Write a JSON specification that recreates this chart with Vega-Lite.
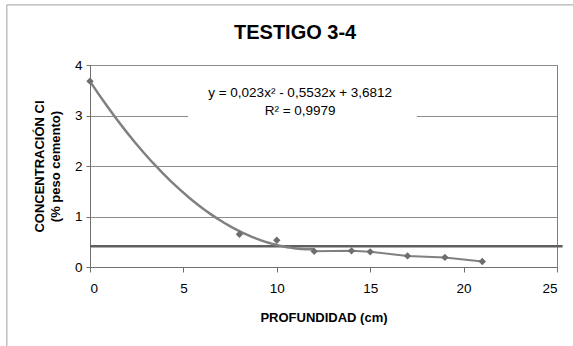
{
  "$schema": "https://vega.github.io/schema/vega-lite/v6.json",
  "width": 467,
  "height": 202,
  "autosize": {"type": "none"},
  "padding": {"left": 90, "top": 65, "right": 16, "bottom": 79},
  "background": "white",
  "config": {
    "font": "Liberation Sans",
    "view": {"stroke": "#808080", "strokeWidth": 1},
    "axis": {"labelFont": "Liberation Sans", "titleFont": "Liberation Sans"}
  },
  "datasets": {
    "pts": [
      {"x": 0, "y": 3.68},
      {"x": 8, "y": 0.65},
      {"x": 10, "y": 0.53},
      {"x": 12, "y": 0.31},
      {"x": 14, "y": 0.32},
      {"x": 15, "y": 0.3},
      {"x": 17, "y": 0.22},
      {"x": 19, "y": 0.19},
      {"x": 21, "y": 0.11}
    ],
    "limit": [
      {"x": 0, "y": 0.41},
      {"x": 25.3, "y": 0.41}
    ],
    "labels": [
      {"label": "y = 0,023x² - 0,5532x + 3,6812", "lx": 11.25, "ly": 3.45},
      {"label": "R² = 0,9979", "lx": 11.25, "ly": 3.08}
    ],
    "heading": [
      {"label": "TESTIGO 3-4", "lx": 10.98, "ly": 4.64}
    ],
    "boxes": [
      {"kind": "label", "x0": 5.25, "x1": 17.5, "y0": 3.78, "y1": 2.88}
    ],
    "frame": [
      {"x0": -4.45, "x1": 28, "y0": 5.19, "y1": -3}
    ]
  },
  "layer": [
    {
      "data": {"name": "pts"},
      "mark": {"type": "point", "opacity": 0},
      "encoding": {
        "x": {
          "field": "x",
          "type": "quantitative",
          "scale": {"domain": [0, 25], "nice": false, "zero": false},
          "axis": {
            "values": [0, 5, 10, 15, 20, 25],
            "format": "d",
            "grid": false,
            "domainColor": "#707070",
            "tickColor": "#707070",
            "tickSize": 5,
            "labelFontSize": 13.5,
            "labelColor": "#000000",
            "labelPadding": 9,
            "title": "PROFUNDIDAD (cm)",
            "titleFontSize": 13,
            "titleFontWeight": "bold",
            "titleColor": "#000000",
            "titlePadding": 17
          }
        },
        "y": {
          "field": "y",
          "type": "quantitative",
          "scale": {"domain": [0, 4], "nice": false, "zero": false},
          "axis": {
            "values": [0, 1, 2, 3, 4],
            "format": "d",
            "grid": true,
            "gridColor": "#8c8c8c",
            "domainColor": "#707070",
            "tickColor": "#707070",
            "tickSize": 4,
            "labelFontSize": 13.5,
            "labelColor": "#000000",
            "labelPadding": 4,
            "title": ["CONCENTRACIÓN Cl", "(% peso cemento)"],
            "titleFontSize": 13,
            "titleFontWeight": "bold",
            "titleColor": "#000000",
            "titleLineHeight": 16,
            "titlePadding": 12
          }
        }
      }
    },
    {
      "data": {"name": "boxes"},
      "mark": {"type": "rect", "fill": "white", "strokeWidth": 0},
      "encoding": {
        "x": {"field": "x0", "type": "quantitative"},
        "x2": {"field": "x1"},
        "y": {"field": "y0", "type": "quantitative"},
        "y2": {"field": "y1"}
      }
    },
    {
      "data": {"name": "frame"},
      "mark": {"type": "rect", "fillOpacity": 0, "stroke": "#a0a0a0", "strokeWidth": 1, "clip": false},
      "encoding": {
        "x": {"field": "x0", "type": "quantitative"},
        "x2": {"field": "x1"},
        "y": {"field": "y0", "type": "quantitative"},
        "y2": {"field": "y1"}
      }
    },
    {
      "data": {"name": "limit"},
      "mark": {"type": "line", "color": "#5f5f5f", "strokeWidth": 2.5, "clip": false},
      "encoding": {
        "x": {"field": "x", "type": "quantitative"},
        "y": {"field": "y", "type": "quantitative"}
      }
    },
    {
      "data": {"name": "pts"},
      "transform": [
        {"filter": "datum.x <= 12"},
        {"regression": "y", "on": "x", "method": "poly", "order": 2, "extent": [0, 12]}
      ],
      "mark": {"type": "line", "color": "#808080", "strokeWidth": 2.5},
      "encoding": {
        "x": {"field": "x", "type": "quantitative"},
        "y": {"field": "y", "type": "quantitative"}
      }
    },
    {
      "data": {"name": "pts"},
      "transform": [{"filter": "datum.x >= 12"}],
      "mark": {"type": "line", "color": "#808080", "strokeWidth": 2},
      "encoding": {
        "x": {"field": "x", "type": "quantitative"},
        "y": {"field": "y", "type": "quantitative"}
      }
    },
    {
      "data": {"name": "pts"},
      "mark": {"type": "point", "shape": "diamond", "filled": true, "size": 55, "color": "#6e6e6e", "opacity": 1},
      "encoding": {
        "x": {"field": "x", "type": "quantitative"},
        "y": {"field": "y", "type": "quantitative"}
      }
    },
    {
      "data": {"name": "labels"},
      "mark": {"type": "text", "fontSize": 13.5, "color": "#000000", "align": "center", "baseline": "middle"},
      "encoding": {
        "x": {"field": "lx", "type": "quantitative"},
        "y": {"field": "ly", "type": "quantitative"},
        "text": {"field": "label"}
      }
    },
    {
      "data": {"name": "heading"},
      "mark": {"type": "text", "fontSize": 20, "fontWeight": "bold", "color": "#000000", "align": "center", "baseline": "middle", "clip": false},
      "encoding": {
        "x": {"field": "lx", "type": "quantitative"},
        "y": {"field": "ly", "type": "quantitative"},
        "text": {"field": "label"}
      }
    }
  ]
}
